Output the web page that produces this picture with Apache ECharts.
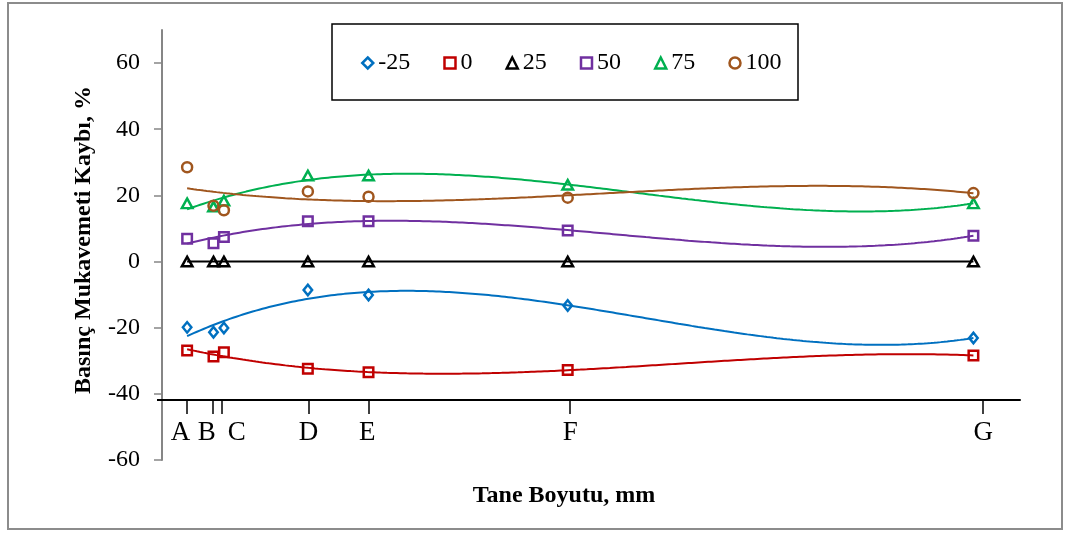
<!DOCTYPE html>
<html>
<head>
<meta charset="utf-8">
<script src="https://cdn.jsdelivr.net/npm/echarts@6/dist/echarts.min.js"></script>
<style>
  html, body { margin: 0; padding: 0; background: #fff; }
  #chart { width: 1066px; height: 534px; }
</style>
</head>
<body>
<div id="chart"></div>
<script>
// Particle size (mm) of each sample group A..G
const sizes = [2.05, 4.2, 5.05, 11.9, 16.85, 33.1, 66.2];
const groupLabels = ['A', 'B', 'C', 'D', 'E', 'F', 'G'];
const tickPositions = [2.0, 4.15, 4.9, 11.95, 16.85, 33.3, 67.0];
const labelPositions = [1.5, 3.65, 6.1, 11.95, 16.75, 33.3, 67.0];

// Compressive strength loss (%) per temperature series
const seriesNames = ['-25', '0', '25', '50', '75', '100'];
const lossM25 = [-19.9, -21.4, -20.1, -8.6, -10.1, -13.3, -23.1];
const loss0   = [-26.9, -28.7, -27.4, -32.4, -33.5, -32.8, -28.4];
const loss25  = [0, 0, 0, 0, 0, 0, 0];
const loss50  = [6.9, 5.5, 7.4, 12.2, 12.2, 9.4, 7.8];
const loss75  = [17.6, 16.6, 18.4, 26.0, 26.0, 23.2, 17.6];
const loss100 = [28.5, 16.9, 15.5, 21.2, 19.6, 19.3, 20.7];
const seriesValues = [lossM25, loss0, loss25, loss50, loss75, loss100];

const colors = ['#0070C0', '#C00000', '#000000', '#7030A0', '#00B050', '#A0561E'];
const symbols = ['diamond', 'rect', 'triangle', 'rect', 'triangle', 'circle'];
const symbolSizes = [[8.5, 10.5], 9.5, [10.5, 9.5], 9.5, [10.5, 9.5], 10];

const FONT = '"Liberation Serif", "Times New Roman", serif';

// Least-squares polynomial trendline
function polyFit(xs, ys, order) {
  const mean = xs.reduce((a, b) => a + b, 0) / xs.length;
  const span = Math.max(...xs) - Math.min(...xs);
  const t = xs.map(x => (x - mean) / span);
  const n = order + 1;
  const M = Array.from({ length: n }, () => new Array(n + 1).fill(0));
  for (let k = 0; k < t.length; k++) {
    for (let i = 0; i < n; i++) {
      for (let j = 0; j < n; j++) M[i][j] += Math.pow(t[k], i + j);
      M[i][n] += ys[k] * Math.pow(t[k], i);
    }
  }
  for (let c = 0; c < n; c++) {
    let p = c;
    for (let r = c + 1; r < n; r++) if (Math.abs(M[r][c]) > Math.abs(M[p][c])) p = r;
    [M[c], M[p]] = [M[p], M[c]];
    for (let r = 0; r < n; r++) {
      if (r === c) continue;
      const f = M[r][c] / M[c][c];
      for (let j = c; j <= n; j++) M[r][j] -= f * M[c][j];
    }
  }
  const coef = M.map((row, i) => row[n] / row[i]);
  return x => {
    const u = (x - mean) / span;
    let s = 0;
    for (let i = n - 1; i >= 0; i--) s = s * u + coef[i];
    return s;
  };
}

function trendPoints(xs, ys) {
  const f = polyFit(xs, ys, 3);
  const lo = xs[0], hi = xs[xs.length - 1];
  const pts = [];
  const steps = 240;
  for (let i = 0; i <= steps; i++) {
    const x = lo + (hi - lo) * i / steps;
    pts.push([x, f(x)]);
  }
  return pts;
}

const series = [];
seriesNames.forEach((name, i) => {
  series.push({
    name: name + ' trend',
    type: 'line',
    data: trendPoints(sizes, seriesValues[i]),
    showSymbol: false,
    symbol: 'none',
    smooth: false,
    silent: true,
    lineStyle: { color: colors[i], width: 2 },
    z: 2
  });
});
seriesNames.forEach((name, i) => {
  series.push({
    name: name,
    type: 'scatter',
    data: sizes.map((x, k) => [x, seriesValues[i][k]]),
    symbol: symbols[i],
    symbolSize: symbolSizes[i],
    itemStyle: { color: 'rgba(255,255,255,0)', borderColor: colors[i], borderWidth: 2.5, opacity: 1 },
    z: 3
  });
});

const chart = echarts.init(document.getElementById('chart'), null, { renderer: 'canvas' });
chart.setOption({
  animation: false,
  backgroundColor: '#ffffff',
  grid: { left: 162, right: 46, top: 30, bottom: 74 },
  legend: {
    data: seriesNames,
    left: 361,
    top: 51,
    padding: 0,
    itemWidth: 11,
    itemHeight: 11,
    itemGap: 33,
    itemStyle: { borderWidth: 2.5, opacity: 1 },
    textStyle: { fontFamily: FONT, fontSize: 24, color: '#000', lineHeight: 24 }
  },
  xAxis: {
    type: 'value',
    min: 0,
    max: 70,
    offset: -60,
    axisLine: { show: true, onZero: false, lineStyle: { color: '#000', width: 2 } },
    axisTick: { show: true, customValues: tickPositions, length: 14, lineStyle: { color: '#000', width: 1.5 } },
    axisLabel: {
      customValues: labelPositions,
      margin: 19,
      fontFamily: FONT,
      fontSize: 27,
      color: '#000',
      formatter: (v) => {
        const idx = labelPositions.indexOf(v);
        return idx >= 0 ? groupLabels[idx] : '';
      }
    },
    splitLine: { show: false }
  },
  yAxis: {
    type: 'value',
    min: -60,
    max: 70,
    interval: 20,
    axisLine: { show: true, onZero: false, lineStyle: { color: '#868686', width: 2 } },
    axisTick: { show: true, length: 8, lineStyle: { color: '#868686', width: 1.5 } },
    axisLabel: {
      showMaxLabel: false,
      margin: 22,
      fontFamily: FONT,
      fontSize: 24,
      color: '#000',
      formatter: (v) => (v > 60 ? '' : String(v))
    },
    splitLine: { show: false }
  },
  graphic: [
    {
      type: 'rect',
      shape: { x: 8, y: 3, width: 1054, height: 526 },
      style: { fill: 'none', stroke: '#8c8c8c', lineWidth: 2 },
      silent: true, z: -1
    },
    {
      type: 'rect',
      shape: { x: 332, y: 24, width: 466, height: 76 },
      style: { fill: 'none', stroke: '#000', lineWidth: 1.5 },
      silent: true, z: 10
    },
    {
      type: 'line',
      shape: { x1: 157, y1: 400, x2: 163, y2: 400 },
      style: { stroke: '#000', lineWidth: 2 },
      silent: true, z: 10
    },
    {
      type: 'text',
      x: 564, y: 496,
      style: { text: 'Tane Boyutu, mm', fontFamily: FONT, fontSize: 24, fontWeight: 'bold', fill: '#000', align: 'center', verticalAlign: 'middle' },
      silent: true
    },
    {
      type: 'text',
      x: 84, y: 240,
      rotation: Math.PI / 2,
      style: { text: 'Basınç Mukavemeti Kaybı, %', fontFamily: FONT, fontSize: 24, fontWeight: 'bold', fill: '#000', align: 'center', verticalAlign: 'middle' },
      silent: true
    }
  ],
  series: series
});
</script>
</body>
</html>
